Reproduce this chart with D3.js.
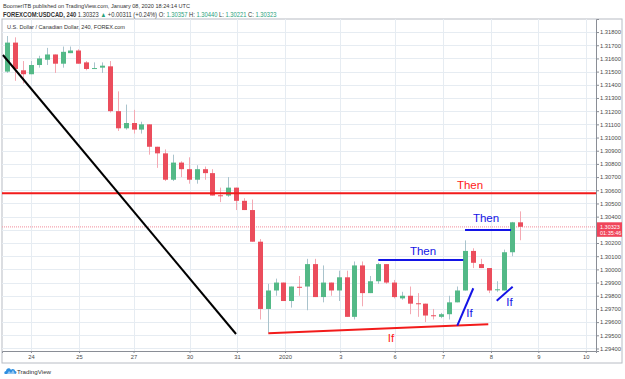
<!DOCTYPE html>
<html>
<head>
<meta charset="utf-8">
<script src="https://cdn.jsdelivr.net/npm/d3@7"></script>
<style>
  body { margin: 0; background: #fff; }
  text { font-family: "Liberation Sans", Arial, sans-serif; }
</style>
</head>
<body>
<div id="chart"></div>
<script>
// 4h candles, USDCAD, Dec 23 2019 -> Jan 8 2020 (index 0 = first candle on screen)
const opens  = [1.3150,1.3172,1.3151,1.3148,1.3155,1.3159,1.3163,1.3156,1.3164,1.3166,
                1.3157,1.31522,1.3153,1.3154,1.3120,1.3107,1.3111,1.3106,1.3110,1.3093,
                1.3088,1.3068,1.3081,1.3076,1.3068,1.3076,1.3073,1.30562,1.3056,1.3062,
                1.3052,1.3045,1.3021,1.2970,1.2984,1.2990,1.2976,1.29868,1.2987,1.3004,
                1.2979,1.2990,1.2984,1.2994,1.2964,1.3003,1.2982,1.2991,1.3004,1.2990,
                1.2978,1.2980,1.29743,1.2974,1.29652,1.2964,1.2966,1.2975,1.2984,1.3014,
                1.3004,1.3001,1.29843,1.2984,1.3013,1.30357];
const highs  = [1.3177,1.3176,1.3158,1.3158,1.3162,1.3168,1.3163,1.3169,1.3169,1.3167,
                1.3158,1.3157,1.3157,1.3158,1.3135,1.3125,1.3121,1.3112,1.3110,1.3093,
                1.3091,1.3087,1.3082,1.3085,1.3079,1.3078,1.3076,1.3062,1.3070,1.3062,
                1.3054,1.3053,1.3023,1.2989,1.2993,1.2990,1.2987,1.2995,1.3008,1.3008,
                1.3003,1.2990,1.2999,1.2999,1.3006,1.3006,1.2995,1.3005,1.3004,1.2992,
                1.2983,1.2987,1.2982,1.2974,1.2970,1.2967,1.2980,1.2987,1.3022,1.3016,
                1.3008,1.3001,1.2991,1.3015,1.3036,1.30440];
const lows   = [1.3149,1.3143,1.3141,1.3148,1.3153,1.3155,1.3149,1.3153,1.3164,1.3156,
                1.3151,1.3152,1.3149,1.3119,1.3105,1.3106,1.3103,1.3103,1.3087,1.3077,
                1.3067,1.3067,1.3070,1.3065,1.3065,1.3068,1.3056,1.3051,1.3055,1.3045,
                1.3045,1.3021,1.2962,1.2952,1.2980,1.2976,1.2971,1.2980,1.2969,1.2979,
                1.2975,1.2980,1.2976,1.2964,1.2962,1.2972,1.2982,1.2989,1.2989,1.2978,
                1.2977,1.2966,1.2964,1.2960,1.2962,1.2963,1.2962,1.2975,1.2984,1.3001,
                1.3001,1.2982,1.2983,1.2984,1.3010,1.30221];
const closes = [1.3172,1.3152,1.3148,1.3155,1.3160,1.3163,1.3156,1.3165,1.3166,1.3156,
                1.3152,1.31527,1.31545,1.3120,1.3107,1.3111,1.3106,1.3110,1.3093,1.3088,
                1.3068,1.3081,1.3076,1.3068,1.3076,1.3073,1.3056,1.30556,1.3062,1.3052,
                1.3045,1.3021,1.2970,1.2984,1.2990,1.2976,1.2987,1.29862,1.3004,1.2979,
                1.2990,1.2984,1.2994,1.2964,1.3003,1.2982,1.2991,1.3004,1.2990,1.2979,
                1.2980,1.2974,1.29737,1.2965,1.29647,1.2966,1.2975,1.2984,1.3014,1.3005,
                1.3001,1.2984,1.29849,1.3013,1.30357,1.30323];

const dayLabels  = ["24","25","27","30","31","2020","3","6","7","8","9","10"];
const dayTickIdx = [3, 9.1, 16, 23.1, 29.1, 35.2, 42.2, 49.1, 55.2, 61.3, 67.3, 73.3];
const priceTicks = [1.294,1.295,1.296,1.297,1.298,1.299,1.300,1.301,1.302,1.303,1.304,1.305,
                    1.306,1.307,1.308,1.309,1.310,1.311,1.312,1.313,1.314,1.315,1.316,1.317,1.318];

const lastPrice = 1.30323;
const thenLevel = 1.30578;
// drawings: [candle index, price]
const blackTrend = [[-0.55, 1.31626], [28.99, 1.29510]];
const redIfLine  = [[33.08, 1.29516], [60.96, 1.29584]];
const blueThenLines = [[[47.02, 1.30071], [57.79, 1.30071]],
                       [[58.01, 1.30299], [63.84, 1.30299]]];
const blueIfLines   = [[[57.03, 1.29573], [59.06, 1.29857]],
                       [[62.03, 1.29763], [64.05, 1.29869]]];
const noteText  = ["Then", "Then", "Then", "If", "If", "If"];
const noteIdx   = [58.64, 52.69, 60.67, 48.63, 58.58, 63.65];
const notePrice = [1.30606, 1.30109, 1.30359, 1.29450, 1.29642, 1.29723];
const noteRed   = [true, false, false, true, false, false];

const W = 625, H = 379;
const plot = { left: 2, right: 596, top: 19, bottom: 351 };

const svg = d3.select("#chart").append("svg")
    .attr("width", W).attr("height", H)
    .style("background", "#fff");

const x = d3.scaleLinear().domain([-0.67, 74.61]).range([plot.left, plot.right]);
const y = d3.scaleLinear().domain([1.29381, 1.31899]).range([plot.bottom, plot.top]);

// header
svg.append("text").attr("x", 3).attr("y", 7.5)
    .attr("font-size", 6).attr("fill", "#333")
    .attr("textLength", 187).attr("lengthAdjust", "spacingAndGlyphs")
    .text("BoomerITB published on TradingView.com, January 08, 2020 18:24:14 UTC");

const green = "#26a17b";
const h2g = svg.append("g");
const h2 = h2g.append("text").attr("x", 0).attr("y", 0).attr("font-size", 6.8).attr("fill", "#333");
h2.append("tspan").attr("font-weight", "bold").text("FOREXCOM:USDCAD, 240 ");
h2.append("tspan").text("1.30323 ");
h2.append("tspan").attr("fill", green).text("▲");
h2.append("tspan").text(" +0.00311 (+0.24%) O: ");
h2.append("tspan").attr("fill", green).text("1.30357");
h2.append("tspan").text(" H: ");
h2.append("tspan").attr("fill", green).text("1.30440");
h2.append("tspan").text(" L: ");
h2.append("tspan").attr("fill", green).text("1.30221");
h2.append("tspan").text(" C: ");
h2.append("tspan").attr("fill", green).text("1.30323");
const h2w = h2.node().getComputedTextLength() || 274;
h2g.attr("transform", `translate(3,16.5) scale(${274 / h2w},1)`);

// frame
svg.append("rect").attr("x", 2).attr("y", 19).attr("width", 620).attr("height", 344)
    .attr("fill", "none").attr("stroke", "#b8bcc4").attr("stroke-width", 1);

// grid
const grid = svg.append("g");
grid.selectAll(".hg").data(priceTicks).enter().append("line")
    .attr("x1", plot.left).attr("x2", plot.right)
    .attr("y1", d => Math.round(y(d)) + 0.5).attr("y2", d => Math.round(y(d)) + 0.5)
    .attr("stroke", "#e6ecf2");
grid.selectAll(".vg").data(dayTickIdx).enter().append("line")
    .attr("y1", plot.top).attr("y2", plot.bottom)
    .attr("x1", d => Math.round(x(d)) + 0.5).attr("x2", d => Math.round(x(d)) + 0.5)
    .attr("stroke", "#e6ecf2");

svg.append("text").attr("x", 7).attr("y", 28.5).attr("font-size", 6.2).attr("fill", "#333")
    .attr("textLength", 118).attr("lengthAdjust", "spacingAndGlyphs")
    .text("U.S. Dollar / Canadian Dollar, 240, FOREX.com");

svg.append("clipPath").attr("id", "clip").append("rect")
    .attr("x", plot.left).attr("y", plot.top)
    .attr("width", plot.right - plot.left).attr("height", plot.bottom - plot.top);
const g = svg.append("g").attr("clip-path", "url(#clip)");

// last price dotted line
g.append("line").attr("x1", plot.left).attr("x2", plot.right)
    .attr("y1", y(lastPrice)).attr("y2", y(lastPrice))
    .attr("stroke", "#f5a3ae").attr("stroke-width", 1.2).attr("stroke-dasharray", "1,1");

// candles
const candles = d3.range(opens.length).map(i => ({
    i: i, o: opens[i], h: highs[i], l: lows[i], c: closes[i], up: closes[i] >= opens[i]
}));
const bw = 5;
const cg = g.selectAll(".candle").data(candles).enter().append("g");
cg.append("line")
    .attr("x1", d => Math.round(x(d.i)) + 0.5).attr("x2", d => Math.round(x(d.i)) + 0.5)
    .attr("y1", d => y(d.h)).attr("y2", d => y(d.l))
    .attr("stroke", d => d.up ? "#a9c3cc" : "#f4a9b3");
cg.append("rect")
    .attr("x", d => Math.round(x(d.i)) + 0.5 - bw / 2)
    .attr("width", bw)
    .attr("y", d => y(Math.max(d.o, d.c)))
    .attr("height", d => Math.max(1, Math.abs(y(d.o) - y(d.c))))
    .attr("fill", d => d.up ? "#53b987" : "#eb4d5c");

// drawings
const line = d3.line().x(d => x(d[0])).y(d => y(d[1]));
g.append("line").attr("x1", plot.left).attr("x2", plot.right)
    .attr("y1", y(thenLevel)).attr("y2", y(thenLevel))
    .attr("stroke", "#f21b1b").attr("stroke-width", 2);
g.append("path").attr("d", line(blackTrend)).attr("stroke", "#000").attr("stroke-width", 2).attr("fill", "none");
g.append("path").attr("d", line(redIfLine)).attr("stroke", "#f21b1b").attr("stroke-width", 2).attr("fill", "none");
g.selectAll(".bt").data(blueThenLines).enter().append("path")
    .attr("d", line).attr("stroke", "#1414e6").attr("stroke-width", 2).attr("fill", "none");
g.selectAll(".bi").data(blueIfLines).enter().append("path")
    .attr("d", line).attr("stroke", "#1414e6").attr("stroke-width", 2).attr("fill", "none");

g.selectAll(".note").data(noteText).enter().append("text")
    .attr("x", (d, i) => x(noteIdx[i])).attr("y", (d, i) => y(notePrice[i]))
    .attr("text-anchor", "middle").attr("font-size", 11.5)
    .attr("fill", (d, i) => noteRed[i] ? "#ff1a1a" : "#1414e6")
    .text(d => d);

// axes
const yAxis = svg.append("g").attr("transform", `translate(${plot.right},0)`)
    .call(d3.axisRight(y).tickValues(priceTicks).tickFormat(d3.format(".5f")).tickSize(3).tickPadding(1));
yAxis.select(".domain").attr("stroke", "#8a8e96");
yAxis.selectAll(".tick line").attr("stroke", "#8a8e96");
yAxis.selectAll("text").attr("font-size", 5.8).attr("fill", "#4a4a4a")
    .attr("font-family", "Liberation Sans, Arial, sans-serif");
// label under the last-price badge is hidden
yAxis.selectAll(".tick").filter(d => Math.abs(d - 1.303) < 1e-9).select("text").remove();

const xAxis = svg.append("g").attr("transform", `translate(0,${plot.bottom})`)
    .call(d3.axisBottom(x).tickValues(dayTickIdx).tickFormat((d, i) => dayLabels[i]).tickSize(2).tickPadding(2));
xAxis.select(".domain").attr("stroke", "#8a8e96");
xAxis.selectAll(".tick line").attr("stroke", "#8a8e96");
xAxis.selectAll("text").attr("font-size", 5.8).attr("fill", "#4a4a4a")
    .attr("font-family", "Liberation Sans, Arial, sans-serif");

// last price badge
const by = y(lastPrice);
svg.append("rect").attr("x", 597).attr("y", by - 4.5).attr("width", 25).attr("height", 14.5)
    .attr("fill", "#f0455a");
svg.append("text").attr("x", 600).attr("y", by + 1.8).attr("font-size", 5.5).attr("fill", "#fff").text("1.30323");
svg.append("text").attr("x", 600).attr("y", by + 8.6).attr("font-size", 5.5).attr("fill", "#fff").text("01:35:46");

// TradingView logo
const logo = svg.append("g").attr("transform", "translate(4,366)");
logo.append("path").attr("d", "M1,8 C0,8 0,5 2,5 C2,2 6,1 7,4 C8,2 11,3 11,5 C13,5 13,8 11,8 Z")
    .attr("fill", "#2e8fe0");
logo.append("path").attr("d", "M3,8 L5,5 L7,7 L9,4 L11,8 Z").attr("fill", "#fff").attr("opacity", 0.5);
svg.append("text").attr("x", 17).attr("y", 374).attr("font-size", 6.2).attr("fill", "#333").text("TradingView");
</script>
</body>
</html>
